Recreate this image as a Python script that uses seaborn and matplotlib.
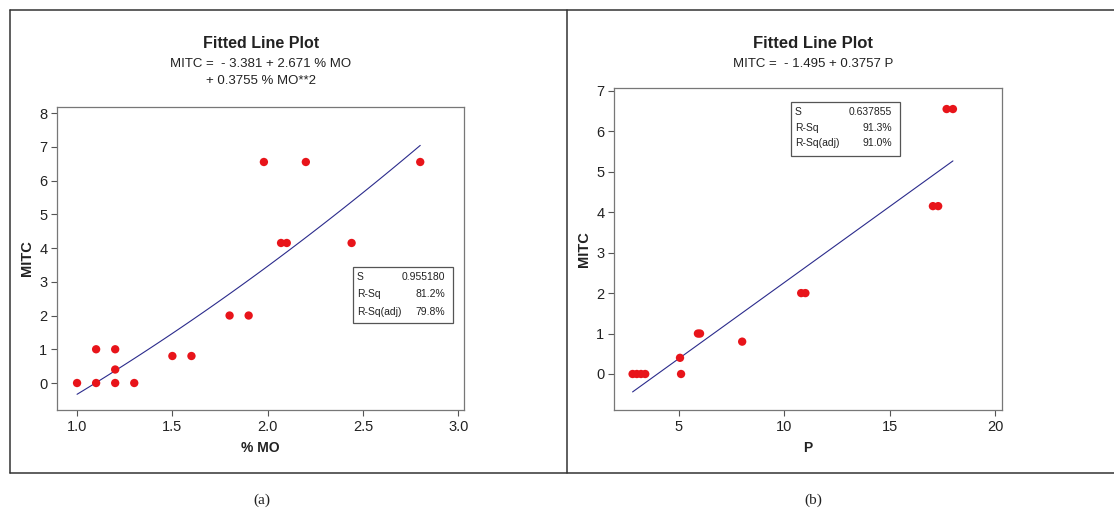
import numpy as np
import pandas as pd
import matplotlib
matplotlib.use('Agg')
import matplotlib.pyplot as plt
import seaborn as sns
from matplotlib.lines import Line2D
from matplotlib.patches import Rectangle

# data
mo = [1.0, 1.1, 1.1, 1.2, 1.2, 1.2, 1.3, 1.5, 1.6, 1.8, 1.9, 2.07, 2.1, 2.44, 1.98, 2.2, 2.8]
mitc_a = [0, 0, 1, 1, 0.4, 0, 0, 0.8, 0.8, 2, 2, 4.15, 4.15, 4.15, 6.55, 6.55, 6.55]

p = [2.8, 3.0, 3.2, 3.4, 5.05, 5.1, 5.9, 6.0, 8.0, 10.8, 11.0, 17.05, 17.3, 17.7, 18.0]
mitc_b = [0, 0, 0, 0, 0.4, 0, 1, 1, 0.8, 2, 2, 4.15, 4.15, 6.55, 6.55]

# fitted equations printed on the plots (highest power first)
coef_a = [0.3755, 2.671, -3.381]
coef_b = [0.3757, -1.495]

stats_a = [('S', '0.955180'), ('R-Sq', '81.2%'), ('R-Sq(adj)', '79.8%')]
stats_b = [('S', '0.637855'), ('R-Sq', '91.3%'), ('R-Sq(adj)', '91.0%')]

df_a = pd.DataFrame({'MO': mo, 'MITC': mitc_a})
df_b = pd.DataFrame({'P': p, 'MITC': mitc_b})

sns.set_style('white')
plt.rcParams['font.family'] = ['Liberation Sans', 'DejaVu Sans']

fig = plt.figure(figsize=(11.14, 5.09), dpi=100)
ax1 = fig.add_axes([0.0512, 0.1945, 0.3654, 0.5953])
ax2 = fig.add_axes([0.5512, 0.1945, 0.3483, 0.6326])

red = '#e8141a'
blue = '#2b2b8c'
txt = '#222222'

xa = np.linspace(min(mo), max(mo), 60)
fit_a = pd.DataFrame({'MO': xa, 'MITC': np.polyval(coef_a, xa)})
xb = np.linspace(min(p), max(p), 60)
fit_b = pd.DataFrame({'P': xb, 'MITC': np.polyval(coef_b, xb)})

sns.lineplot(data=fit_a, x='MO', y='MITC', ax=ax1, color=blue, lw=0.8)
sns.scatterplot(data=df_a, x='MO', y='MITC', ax=ax1, s=36, color=red, edgecolor='none', zorder=3)
sns.lineplot(data=fit_b, x='P', y='MITC', ax=ax2, color=blue, lw=0.8)
sns.scatterplot(data=df_b, x='P', y='MITC', ax=ax2, s=36, color=red, edgecolor='none', zorder=3)

ax1.set_xlim(0.895, 3.03)
ax1.set_ylim(-0.8, 8.18)
ax1.set_xticks([1.0, 1.5, 2.0, 2.5, 3.0])
ax1.set_xticklabels(['1.0', '1.5', '2.0', '2.5', '3.0'])
ax1.set_yticks(range(0, 9))

ax2.set_xlim(1.92, 20.33)
ax2.set_ylim(-0.89, 7.07)
ax2.set_xticks([5, 10, 15, 20])
ax2.set_yticks(range(0, 8))

for ax, xl in [(ax1, '% MO'), (ax2, 'P')]:
    ax.set_xlabel(xl, fontsize=10, fontweight='bold', color=txt, labelpad=5)
    ax.set_ylabel('MITC', fontsize=10.5, fontweight='bold', color=txt, labelpad=4)
    ax.tick_params(axis='both', which='both', direction='out', length=4, width=0.8,
                   labelsize=10.5, colors='#555555', labelcolor=txt, pad=3,
                   left=True, bottom=True)
    for s in ax.spines.values():
        s.set_color('#777777')
        s.set_linewidth(0.9)

def stat_box(ax, x0, x1, y0, y1, rows, ys):
    ax.add_patch(Rectangle((x0, y0), x1 - x0, y1 - y0, transform=ax.transAxes,
                           fill=True, facecolor='white', edgecolor='#555555', lw=0.9, zorder=5))
    for (k, v), yy in zip(rows, ys):
        ax.text(x0 + 0.01, yy, k, transform=ax.transAxes, fontsize=7.5, color=txt,
                va='center', ha='left', zorder=6)
        ax.text(x1 - 0.02, yy, v, transform=ax.transAxes, fontsize=7.5, color=txt,
                va='center', ha='right', zorder=6)

stat_box(ax1, 0.727, 0.973, 0.287, 0.472, stats_a, [0.439, 0.383, 0.323])
stat_box(ax2, 0.456, 0.737, 0.789, 0.957, stats_b, [0.925, 0.876, 0.829])

# titles
fig.text(0.2339, 0.914, 'Fitted Line Plot', ha='center', va='center',
         fontsize=11.5, fontweight='bold', color=txt)
fig.text(0.2339, 0.874, 'MITC =  - 3.381 + 2.671 % MO', ha='center', va='center',
         fontsize=9.5, color=txt)
fig.text(0.2339, 0.840, '+ 0.3755 % MO**2', ha='center', va='center',
         fontsize=9.5, color=txt)
fig.text(0.7298, 0.914, 'Fitted Line Plot', ha='center', va='center',
         fontsize=12, fontweight='bold', color=txt)
fig.text(0.7298, 0.874, 'MITC =  - 1.495 + 0.3757 P', ha='center', va='center',
         fontsize=9.5, color=txt)

# captions
fig.text(0.2352, 0.018, '(a)', ha='center', va='center', fontsize=11,
         family='Liberation Serif', color=txt)
fig.text(0.7298, 0.018, '(b)', ha='center', va='center', fontsize=11,
         family='Liberation Serif', color=txt)

# panel frames
top, bot, lft, mid = 1 - 10 / 509, 1 - 473 / 509, 10 / 1114, 567 / 1114
for xs, ys in [([lft, 1], [top, top]), ([lft, 1], [bot, bot]),
               ([lft, lft], [bot, top]), ([mid, mid], [bot, top])]:
    fig.add_artist(Line2D(xs, ys, transform=fig.transFigure, color='#333333', lw=1.1))

fig.savefig('out.png', dpi=100, facecolor='white')
